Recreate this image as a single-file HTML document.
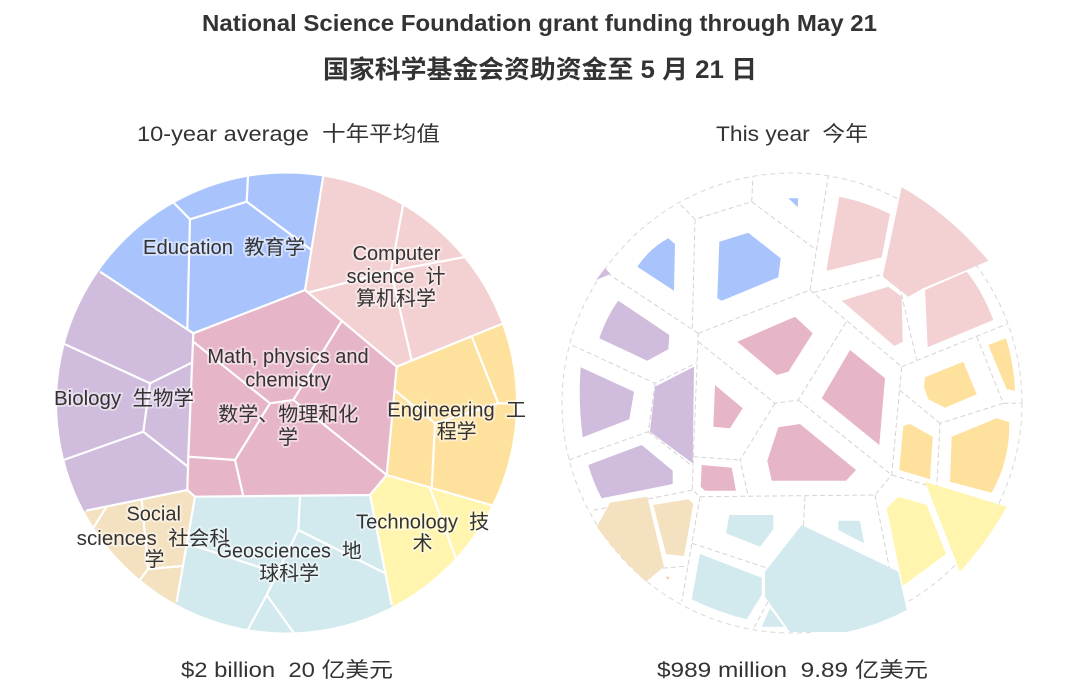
<!DOCTYPE html>
<html>
<head>
<meta charset="utf-8">
<style>
  html,body{margin:0;padding:0;background:#fff;}
  svg{display:block;}
  text{font-family:"Liberation Sans","Noto Sans CJK SC",sans-serif;fill:#333;white-space:pre;}
  .lbl{font-size:20px;stroke:#fff;stroke-width:4px;stroke-opacity:0.45;stroke-linejoin:round;paint-order:stroke;}
</style>
</head>
<body>
<svg width="1080" height="699" viewBox="0 0 1080 699" xmlns="http://www.w3.org/2000/svg" xml:space="preserve">
  <defs>
    <clipPath id="cl"><circle cx="286.5" cy="403" r="229.5"/></clipPath>
    <g id="lines">
      <path d="M305,290 L323.3,176 M193.3,333.3 L100,271.7 M193.3,333.3 L305,290 L396.7,366.7 L386.7,475 L370,495 L195,496.7 L187.3,490 L188.3,456.7 Z M396.7,366.7 L501.7,324 M386.7,475 L496.7,506.7 M370,495 L391.7,605 M195,496.7 L176.7,601.7 M187.3,490 L86,510.7"/>
      <path d="M170,199 L190,219.3 L246.7,201.7 L248.3,170 M246.7,201.7 L311.5,250 M190,219.3 L187.3,329.3"/>
      <path d="M404,200 L391,271 L411.7,360.5 M308.5,292.5 L391,271 L470,256"/>
      <path d="M193.3,341.7 L270,403.3 L293.3,400 L341.7,321 M270,403.3 L235,460 L243.3,496.3 M188.3,456.7 L235,460 M293.3,400 L386.7,475"/>
      <path d="M60,342 L150,383.3 L191.7,362.7 M150,383.3 L143.3,431.7 L58,462 M143.3,431.7 L188,466.7"/>
      <path d="M106.7,506.5 L92,530 M141.7,499.3 L148,569 L183,566 M148,569 L137,584"/>
      <path d="M300,496.5 L298.3,530 L385.4,573.3 M298.3,530 L266.7,595 L245,635 M266.7,595 L296,636 M187,543.3 L277,573"/>
      <path d="M430,488 L458,564"/>
      <path d="M471.7,336.5 L498.3,403.3 L525,403.3 M498.3,403.3 L435,423.3 L431.7,488.5 M394.5,390 L435,423.3"/>
    </g>
  </defs>

  <text x="202" y="31" font-size="23" font-weight="bold" textLength="675" lengthAdjust="spacingAndGlyphs">National Science Foundation grant funding through May 21</text>
  <text x="323" y="78" font-size="25" font-weight="bold" textLength="434" lengthAdjust="spacingAndGlyphs">国家科学基金会资助资金至 5 月 21 日</text>
  <text x="137" y="141" font-size="21" textLength="303" lengthAdjust="spacingAndGlyphs">10-year average  十年平均值</text>
  <text x="716" y="141" font-size="21" textLength="152" lengthAdjust="spacingAndGlyphs">This year  今年</text>
  <text x="181" y="677" font-size="21" textLength="212" lengthAdjust="spacingAndGlyphs">$2 billion  20 亿美元</text>
  <text x="657" y="677" font-size="21" textLength="271" lengthAdjust="spacingAndGlyphs">$989 million  9.89 亿美元</text>

  <g clip-path="url(#cl)">
    <polygon fill="#a9c4fd" points="193.3,333.3 100,271.7 44,232.3 334.3,107.9 323.3,176 305,290"/>
    <polygon fill="#f3d1d2" points="305,290 323.3,176 334.3,107.9 566.3,300.3 501.7,324 396.7,366.7"/>
    <polygon fill="#fee19d" points="396.7,366.7 501.7,324 566.3,300.3 559.8,537.8 496.7,506.7 386.7,475"/>
    <polygon fill="#fff5ae" points="386.7,475 496.7,506.7 559.8,537.8 423.3,665.6 391.7,605 370,495"/>
    <polygon fill="#d2e9ee" points="370,495 391.7,605 423.3,665.6 143.8,661.3 176.7,601.7 195,496.7"/>
    <polygon fill="#f4e1bf" points="195,496.7 176.7,601.7 143.8,661.3 25.8,543 86,510.7 187.3,490"/>
    <polygon fill="#d0bcdd" points="187.3,490 86,510.7 25.8,543 44,232.3 100,271.7 193.3,333.3 188.3,456.7"/>
    <polygon fill="#e7b5c8" points="193.3,333.3 305,290 396.7,366.7 386.7,475 370,495 195,496.7 187.3,490 188.3,456.7"/>
    <use href="#lines" fill="none" stroke="#fff" stroke-width="2.2" stroke-linejoin="round"/>
  </g>

  <g class="lbl">
    <text x="143" y="254" textLength="162" lengthAdjust="spacingAndGlyphs">Education  教育学</text>
    <text x="396.5" y="260" text-anchor="middle">Computer</text>
    <text x="396" y="283" text-anchor="middle">science  计</text>
    <text x="396" y="305" text-anchor="middle">算机科学</text>
    <text x="288" y="363" text-anchor="middle">Math, physics and</text>
    <text x="288" y="386.5" text-anchor="middle">chemistry</text>
    <text x="288.3" y="421" text-anchor="middle">数学、物理和化</text>
    <text x="288" y="444" text-anchor="middle">学</text>
    <text x="54" y="405" textLength="140" lengthAdjust="spacingAndGlyphs">Biology  生物学</text>
    <text x="387.3" y="416.5" textLength="138.7" lengthAdjust="spacingAndGlyphs">Engineering  工</text>
    <text x="456.7" y="438" text-anchor="middle">程学</text>
    <text x="153.7" y="520.7" text-anchor="middle">Social</text>
    <text x="76.7" y="545" textLength="153.3" lengthAdjust="spacingAndGlyphs">sciences  社会科</text>
    <text x="154.5" y="566" text-anchor="middle">学</text>
    <text x="216.7" y="557.3" textLength="145" lengthAdjust="spacingAndGlyphs">Geosciences  地</text>
    <text x="289.2" y="580" text-anchor="middle">球科学</text>
    <text x="356" y="528.3" textLength="133.3" lengthAdjust="spacingAndGlyphs">Technology  技</text>
    <text x="422.5" y="550" text-anchor="middle">术</text>
  </g>

  <g transform="translate(505,0)">
    <g clip-path="url(#cl)">
      <use href="#lines" fill="none" stroke="#d4d4d4" stroke-width="1" stroke-dasharray="5 3"/>
    </g>
  </g>
  <circle cx="792" cy="403" r="230" fill="none" stroke="#d8d8d8" stroke-width="1" stroke-dasharray="5 4"/>

  <g>
    <polygon fill="#a9c4fd" points="788.3,198.3 798.3,198.3 797.7,207.3"/>
    <path fill="#a9c4fd" d="M637.3,266.7 Q650,248 668.3,238.3 L675,244 L674,290.7 Z"/>
    <polygon fill="#a9c4fd" points="719.3,241.7 748.3,232.7 780.7,258.3 778.3,277.3 721.7,300.7 717.3,298.3"/>
    <path fill="#f3d1d2" d="M839.3,196.7 Q866,202 890,214 L881.7,257.3 L827.3,270.7 L826.7,268.3 Z"/>
    <path fill="#f3d1d2" d="M901.7,187.3 Q949,214 988.3,260.7 L966.7,270 L923.3,288.3 L908.3,296.7 L882.7,276.5 Z"/>
    <polygon fill="#f3d1d2" points="841.7,300.7 888.3,286.7 901.7,296.7 902.7,341.7 894.3,346"/>
    <path fill="#f3d1d2" d="M925,290 L966.7,271.7 Q983,292 993.3,320 L927.7,347.3 Z"/>
    <polygon fill="#d0bcdd" points="596,280 605,268.3 610.7,274"/>
    <path fill="#d0bcdd" d="M599.3,338.3 Q607,316 618.3,300.7 L669.3,335 L668.3,349.3 L647.3,360.7 Z"/>
    <path fill="#d0bcdd" d="M582.7,437.3 Q578,402 580.7,367.3 L634,391.7 L629.3,419.3 Z"/>
    <polygon fill="#d0bcdd" points="650,431.7 655,386.7 694,366.7 692.7,463.3"/>
    <path fill="#d0bcdd" d="M588.3,465 L641.7,445 L672.7,470.7 L672.7,484 L601.7,498.3 Q593,482 588.3,465 Z"/>
    <polygon fill="#e7b5c8" points="737.3,341.7 795,316.7 812.7,333.3 788.3,371.7 776.7,375"/>
    <polygon fill="#e7b5c8" points="715,385 742.7,408.3 730,428.3 713.3,426.7"/>
    <polygon fill="#e7b5c8" points="850,350 885,378.3 879.3,445 821.7,398.3"/>
    <polygon fill="#e7b5c8" points="778.3,427.3 800,424 856,470 846,480.7 771.7,480.7 767.3,460.7"/>
    <polygon fill="#e7b5c8" points="701.7,465 731.7,467.7 736,490.7 705,490.7 700.7,486.7"/>
    <path fill="#fee19d" d="M988.3,345 L1006,338.3 Q1014,364 1015,390.7 L1006.7,389.3 Z"/>
    <polygon fill="#fee19d" points="925,377.3 963.3,361.7 976.7,394.3 945,407.7 928.3,399.3 924,387.3"/>
    <polygon fill="#fee19d" points="903.3,426 910,424 932.7,436.7 930,479.3 899.3,470"/>
    <path fill="#fee19d" d="M951.7,436.7 L996.7,418.3 L1009.3,422.3 Q1010,460 991.7,492.7 L950,481.7 Z"/>
    <path fill="#f4e1bf" d="M596.7,526.7 L610,502.7 L647.3,496.7 L664,566.7 L646,581.7 Q618,556 596.7,526.7 Z"/>
    <polygon fill="#f4e1bf" points="653.3,505 688.3,499.3 693.3,504 684,556 666,554"/>
    <polygon fill="#f6c98e" points="666,576.5 669.5,577 668,580"/>
    <polygon fill="#d2e9ee" points="729.3,515 773.3,515 773.3,529.3 760,546.7 726,533.3"/>
    <polygon fill="#d2e9ee" points="838.3,520.7 860,520.7 864,543.3 838.3,530"/>
    <path fill="#d2e9ee" d="M801.7,525 L898.3,571.7 L906.7,610 Q878,625 846.7,632 L790,632 L765,596.7 L765,571.7 Z"/>
    <path fill="#d2e9ee" d="M700,554 L761.7,577.7 L761.7,595 L746.7,619.3 Q717,612 691.7,599.3 Z"/>
    <polygon fill="#d2e9ee" points="770,608.3 784,626.7 761.7,626.7"/>
    <polygon fill="#fff5ae" points="886.7,508.3 898.3,496.7 926.7,505 946,554 902.7,586"/>
    <path fill="#fff5ae" d="M925,481.7 L1006.7,506.7 Q987,542 960,571.7 Z"/>
  </g>
</svg>
</body>
</html>
